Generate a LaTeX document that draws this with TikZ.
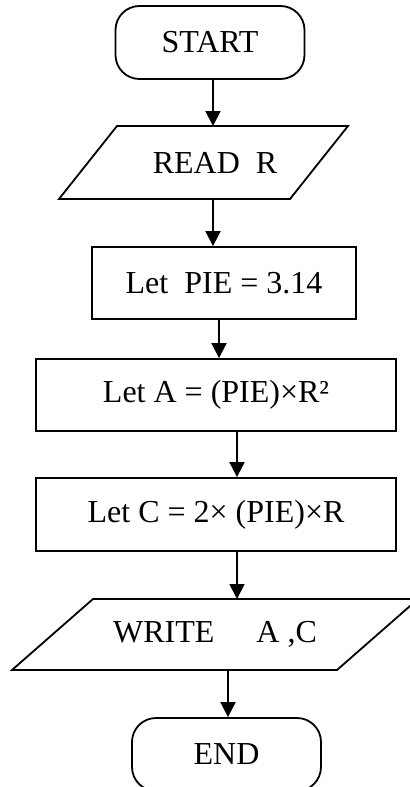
\documentclass[tikz,border=0pt]{standalone}
\usepackage{fontspec}
\setmainfont{Liberation Serif}
\usepackage{tikz}
\usetikzlibrary{arrows.meta}

\begin{document}
\begin{tikzpicture}[x=0.5pt, y=-0.5pt, line width=0.9pt,
        font=\fontsize{16}{19}\selectfont,
        term/.style={rectangle, rounded corners=12pt, draw, minimum width=94.5pt, minimum height=36.5pt},
        io/.style={rectangle, inner sep=1pt, outer sep=0pt},
        box/.style={rectangle, draw, minimum height=36pt},
        arr/.style={-{Triangle[length=7.5pt, width=7.5pt]}}]
        \useasboundingbox (0,0) rectangle (410,787);

        \node[term] (start) at (210, 42.5) {START};
        \node[io, minimum width=115.5pt, minimum height=36.5pt] (read) at (203.5, 162.5) {\hspace{11.5pt}READ\ \ R};
        \node[box, minimum width=132pt] (pie) at (224, 283) {Let\ \ PIE = 3.14};
        \node[box, minimum width=180pt] (area) at (216, 395) {Let A = (PIE)×R²};
        \node[box, minimum width=180pt, minimum height=36.5pt] (circ) at (216, 514.5) {Let C = 2× (PIE)×R};
        \node[io, minimum width=162.5pt, minimum height=35.5pt] (write) at (215, 634.5) {WRITE\hspace{21pt}A ,C};
        \node[term] (stop) at (226.5, 754.5) {END};

        \foreach \n/\s in {read/14.5pt, write/20.25pt}
            \draw ([xshift=\s]\n.north west) -- ([xshift=\s]\n.north east)
                  -- ([xshift=-\s]\n.south east) -- ([xshift=-\s]\n.south west) -- cycle;

        \draw (213,0 |- start.south) edge[arr] (213,0 |- read.north)
              (213,0 |- read.south) edge[arr] (213,0 |- pie.north)
              (219,0 |- pie.south) edge[arr] (219,0 |- area.north)
              (237,0 |- area.south) edge[arr] (237,0 |- circ.north)
              (237,0 |- circ.south) edge[arr] (237,0 |- write.north)
              (228,0 |- write.south) edge[arr] (228,0 |- stop.north);
    \end{tikzpicture}
\end{document}
